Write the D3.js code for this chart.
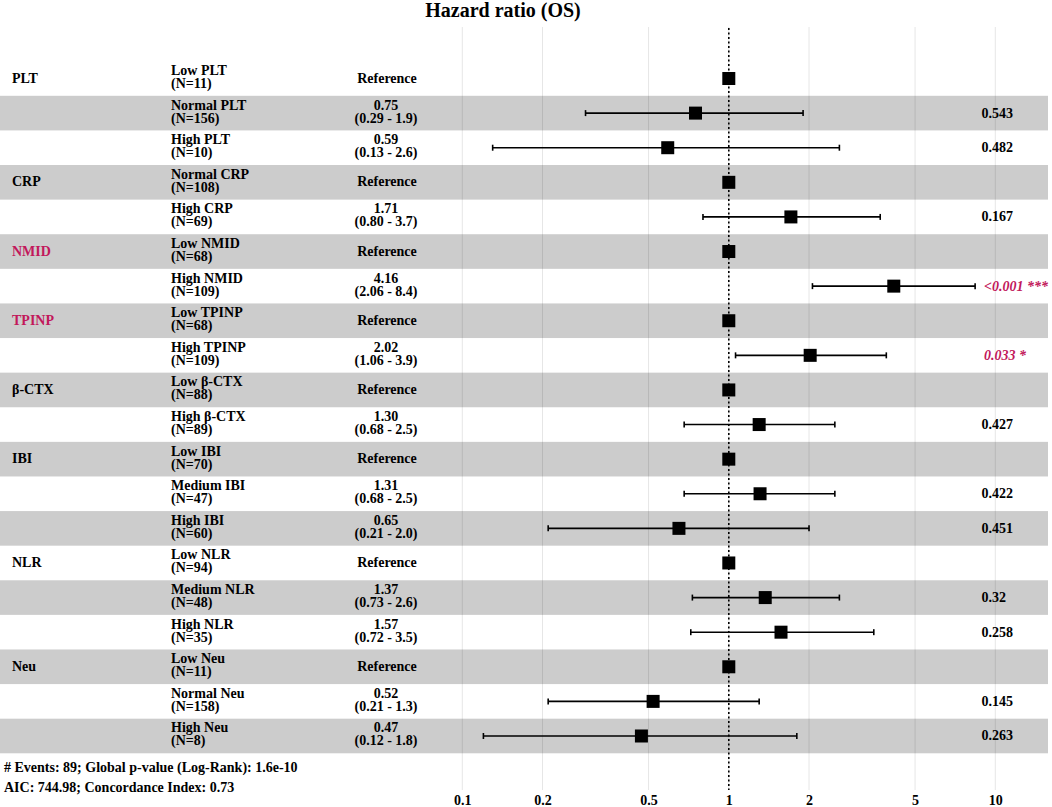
<!DOCTYPE html>
<html>
<head>
<meta charset="utf-8">
<script src="https://cdn.jsdelivr.net/npm/d3@7"></script>
<style>
  html, body { margin: 0; padding: 0; background: #fff; }
  svg text { font-family: "Liberation Serif", "Times New Roman", serif; font-weight: bold; fill: #000; }
</style>
</head>
<body>
<div id="chart"></div>
<script>
// Forest plot data (one entry per row)
const groups = ["PLT", "", "", "CRP", "", "NMID", "", "TPINP", "", "β-CTX", "", "IBI", "", "", "NLR", "", "", "Neu", "", ""];
const levels = ["Low PLT", "Normal PLT", "High PLT", "Normal CRP", "High CRP", "Low NMID", "High NMID",
  "Low TPINP", "High TPINP", "Low β-CTX", "High β-CTX", "Low IBI", "Medium IBI", "High IBI",
  "Low NLR", "Medium NLR", "High NLR", "Low Neu", "Normal Neu", "High Neu"];
const counts = [11, 156, 10, 108, 69, 68, 109, 68, 109, 88, 89, 70, 47, 60, 94, 48, 35, 11, 158, 8];
const hr =     [null, 0.75, 0.59, null, 1.71, null, 4.16, null, 2.02, null, 1.30, null, 1.31, 0.65, null, 1.37, 1.57, null, 0.52, 0.47];
const ciLow =  [null, 0.29, 0.13, null, 0.80, null, 2.06, null, 1.06, null, 0.68, null, 0.68, 0.21, null, 0.73, 0.72, null, 0.21, 0.12];
const ciHigh = [null, 1.9, 2.6, null, 3.7, null, 8.4, null, 3.9, null, 2.5, null, 2.5, 2.0, null, 2.6, 3.5, null, 1.3, 1.8];
const pvals =  ["", "0.543", "0.482", "", "0.167", "", "<0.001 ***", "", "0.033 *", "", "0.427", "", "0.422", "0.451",
  "", "0.32", "0.258", "", "0.145", "0.263"];
const significant = ["NMID", "TPINP"];
const ticks = [0.1, 0.2, 0.5, 1, 2, 5, 10];
const footer = ["# Events: 89; Global p-value (Log-Rank): 1.6e-10", "AIC: 744.98; Concordance Index: 0.73"];

const width = 1052, height = 807;
const pink = "#c2185b";

const svg = d3.select("#chart").append("svg")
  .attr("width", width)
  .attr("height", height);

const rows = d3.range(levels.length);

const y = d3.scaleBand()
  .domain(rows)
  .range([61.2, 753.3])
  .padding(0);

const x = d3.scaleLog()
  .domain([0.1, 10])
  .range([462.3, 995.3]);

const cy = i => y(i) + y.bandwidth() / 2;

// zebra stripes
svg.selectAll(".stripe")
  .data(rows.filter(i => i % 2 === 1))
  .enter().append("rect")
  .attr("class", "stripe")
  .attr("x", 0)
  .attr("y", i => y(i))
  .attr("width", 1048)
  .attr("height", y.bandwidth())
  .attr("fill", "#cccccc");

// vertical grid
svg.selectAll(".grid")
  .data(ticks)
  .enter().append("line")
  .attr("class", "grid")
  .attr("x1", d => x(d)).attr("x2", d => x(d))
  .attr("y1", 27).attr("y2", 790)
  .attr("stroke", "#000")
  .attr("stroke-opacity", 0.1)
  .attr("stroke-width", 1);

// reference line at HR = 1
svg.append("line")
  .attr("x1", x(1)).attr("x2", x(1))
  .attr("y1", 28).attr("y2", 790)
  .attr("stroke", "#000")
  .attr("stroke-width", 1.6)
  .attr("stroke-dasharray", "2,2.5");

// title
svg.append("text")
  .attr("x", 503)
  .attr("y", 17)
  .attr("text-anchor", "middle")
  .style("font-size", "20px")
  .text("Hazard ratio (OS)");

// group labels
svg.selectAll(".group")
  .data(rows.filter(i => groups[i] !== ""))
  .enter().append("text")
  .attr("class", "group")
  .attr("x", 12)
  .attr("y", i => cy(i) + 4)
  .style("font-size", "14px")
  .style("fill", i => significant.includes(groups[i]) ? pink : "#000")
  .text(i => groups[i]);

// level labels
const lvl = svg.selectAll(".level")
  .data(rows)
  .enter().append("text")
  .attr("class", "level")
  .style("font-size", "14px");
lvl.append("tspan").attr("x", 171).attr("y", i => cy(i) - 3.5).text(i => levels[i]);
lvl.append("tspan").attr("x", 171).attr("y", i => cy(i) + 9.5).text(i => `(N=${counts[i]})`);

// estimates
const est = svg.selectAll(".est")
  .data(rows)
  .enter().append("text")
  .attr("class", "est")
  .attr("text-anchor", "middle")
  .style("font-size", "14px");
est.filter(i => hr[i] === null)
  .append("tspan").attr("x", 387).attr("y", i => cy(i) + 4).text("Reference");
est.filter(i => hr[i] !== null)
  .append("tspan").attr("x", 386).attr("y", i => cy(i) - 3.5).text(i => hr[i].toFixed(2));
est.filter(i => hr[i] !== null)
  .append("tspan").attr("x", 386).attr("y", i => cy(i) + 9.5)
  .text(i => `(${ciLow[i].toFixed(2)} - ${ciHigh[i].toFixed(1)})`);

// confidence intervals
const ciRows = rows.filter(i => hr[i] !== null);
svg.selectAll(".ci")
  .data(ciRows)
  .enter().append("line")
  .attr("class", "ci")
  .attr("x1", i => x(ciLow[i])).attr("x2", i => x(ciHigh[i]))
  .attr("y1", cy).attr("y2", cy)
  .attr("stroke", "#000").attr("stroke-width", 1.6);
["lo", "hi"].forEach(end => {
  svg.selectAll(".cap-" + end)
    .data(ciRows)
    .enter().append("line")
    .attr("x1", i => x(end === "lo" ? ciLow[i] : ciHigh[i]))
    .attr("x2", i => x(end === "lo" ? ciLow[i] : ciHigh[i]))
    .attr("y1", i => cy(i) - 3).attr("y2", i => cy(i) + 3)
    .attr("stroke", "#000").attr("stroke-width", 1.6);
});

// point estimates (reference rows sit on 1)
const sq = 13;
svg.selectAll(".pt")
  .data(rows)
  .enter().append("rect")
  .attr("class", "pt")
  .attr("x", i => x(hr[i] === null ? 1 : hr[i]) - sq / 2)
  .attr("y", i => cy(i) - sq / 2)
  .attr("width", sq).attr("height", sq)
  .attr("fill", "#000");

// p-values
svg.selectAll(".pval")
  .data(rows.filter(i => pvals[i] !== ""))
  .enter().append("text")
  .attr("class", "pval")
  .attr("x", i => pvals[i].includes("*") ? 984 : 981.5)
  .attr("y", i => cy(i) + 4.5)
  .style("font-size", "14px")
  .style("font-style", i => pvals[i].includes("*") ? "italic" : "normal")
  .style("fill", i => pvals[i].includes("*") ? pink : "#000")
  .text(i => pvals[i]);

// x axis
const axis = svg.append("g")
  .attr("transform", "translate(0,790)")
  .call(d3.axisBottom(x).tickValues(ticks).tickSize(0).tickPadding(5).tickFormat(d3.format("")));
axis.select(".domain").remove();
axis.selectAll("text")
  .style("font-family", '"Liberation Serif", "Times New Roman", serif')
  .style("font-weight", "bold")
  .style("font-size", "14px")
  .attr("fill", "#000");

// footer notes
svg.selectAll(".foot")
  .data(footer)
  .enter().append("text")
  .attr("class", "foot")
  .attr("x", 4)
  .attr("y", (d, i) => 772 + i * 19.5)
  .style("font-size", "14px")
  .text(d => d);
</script>
</body>
</html>
